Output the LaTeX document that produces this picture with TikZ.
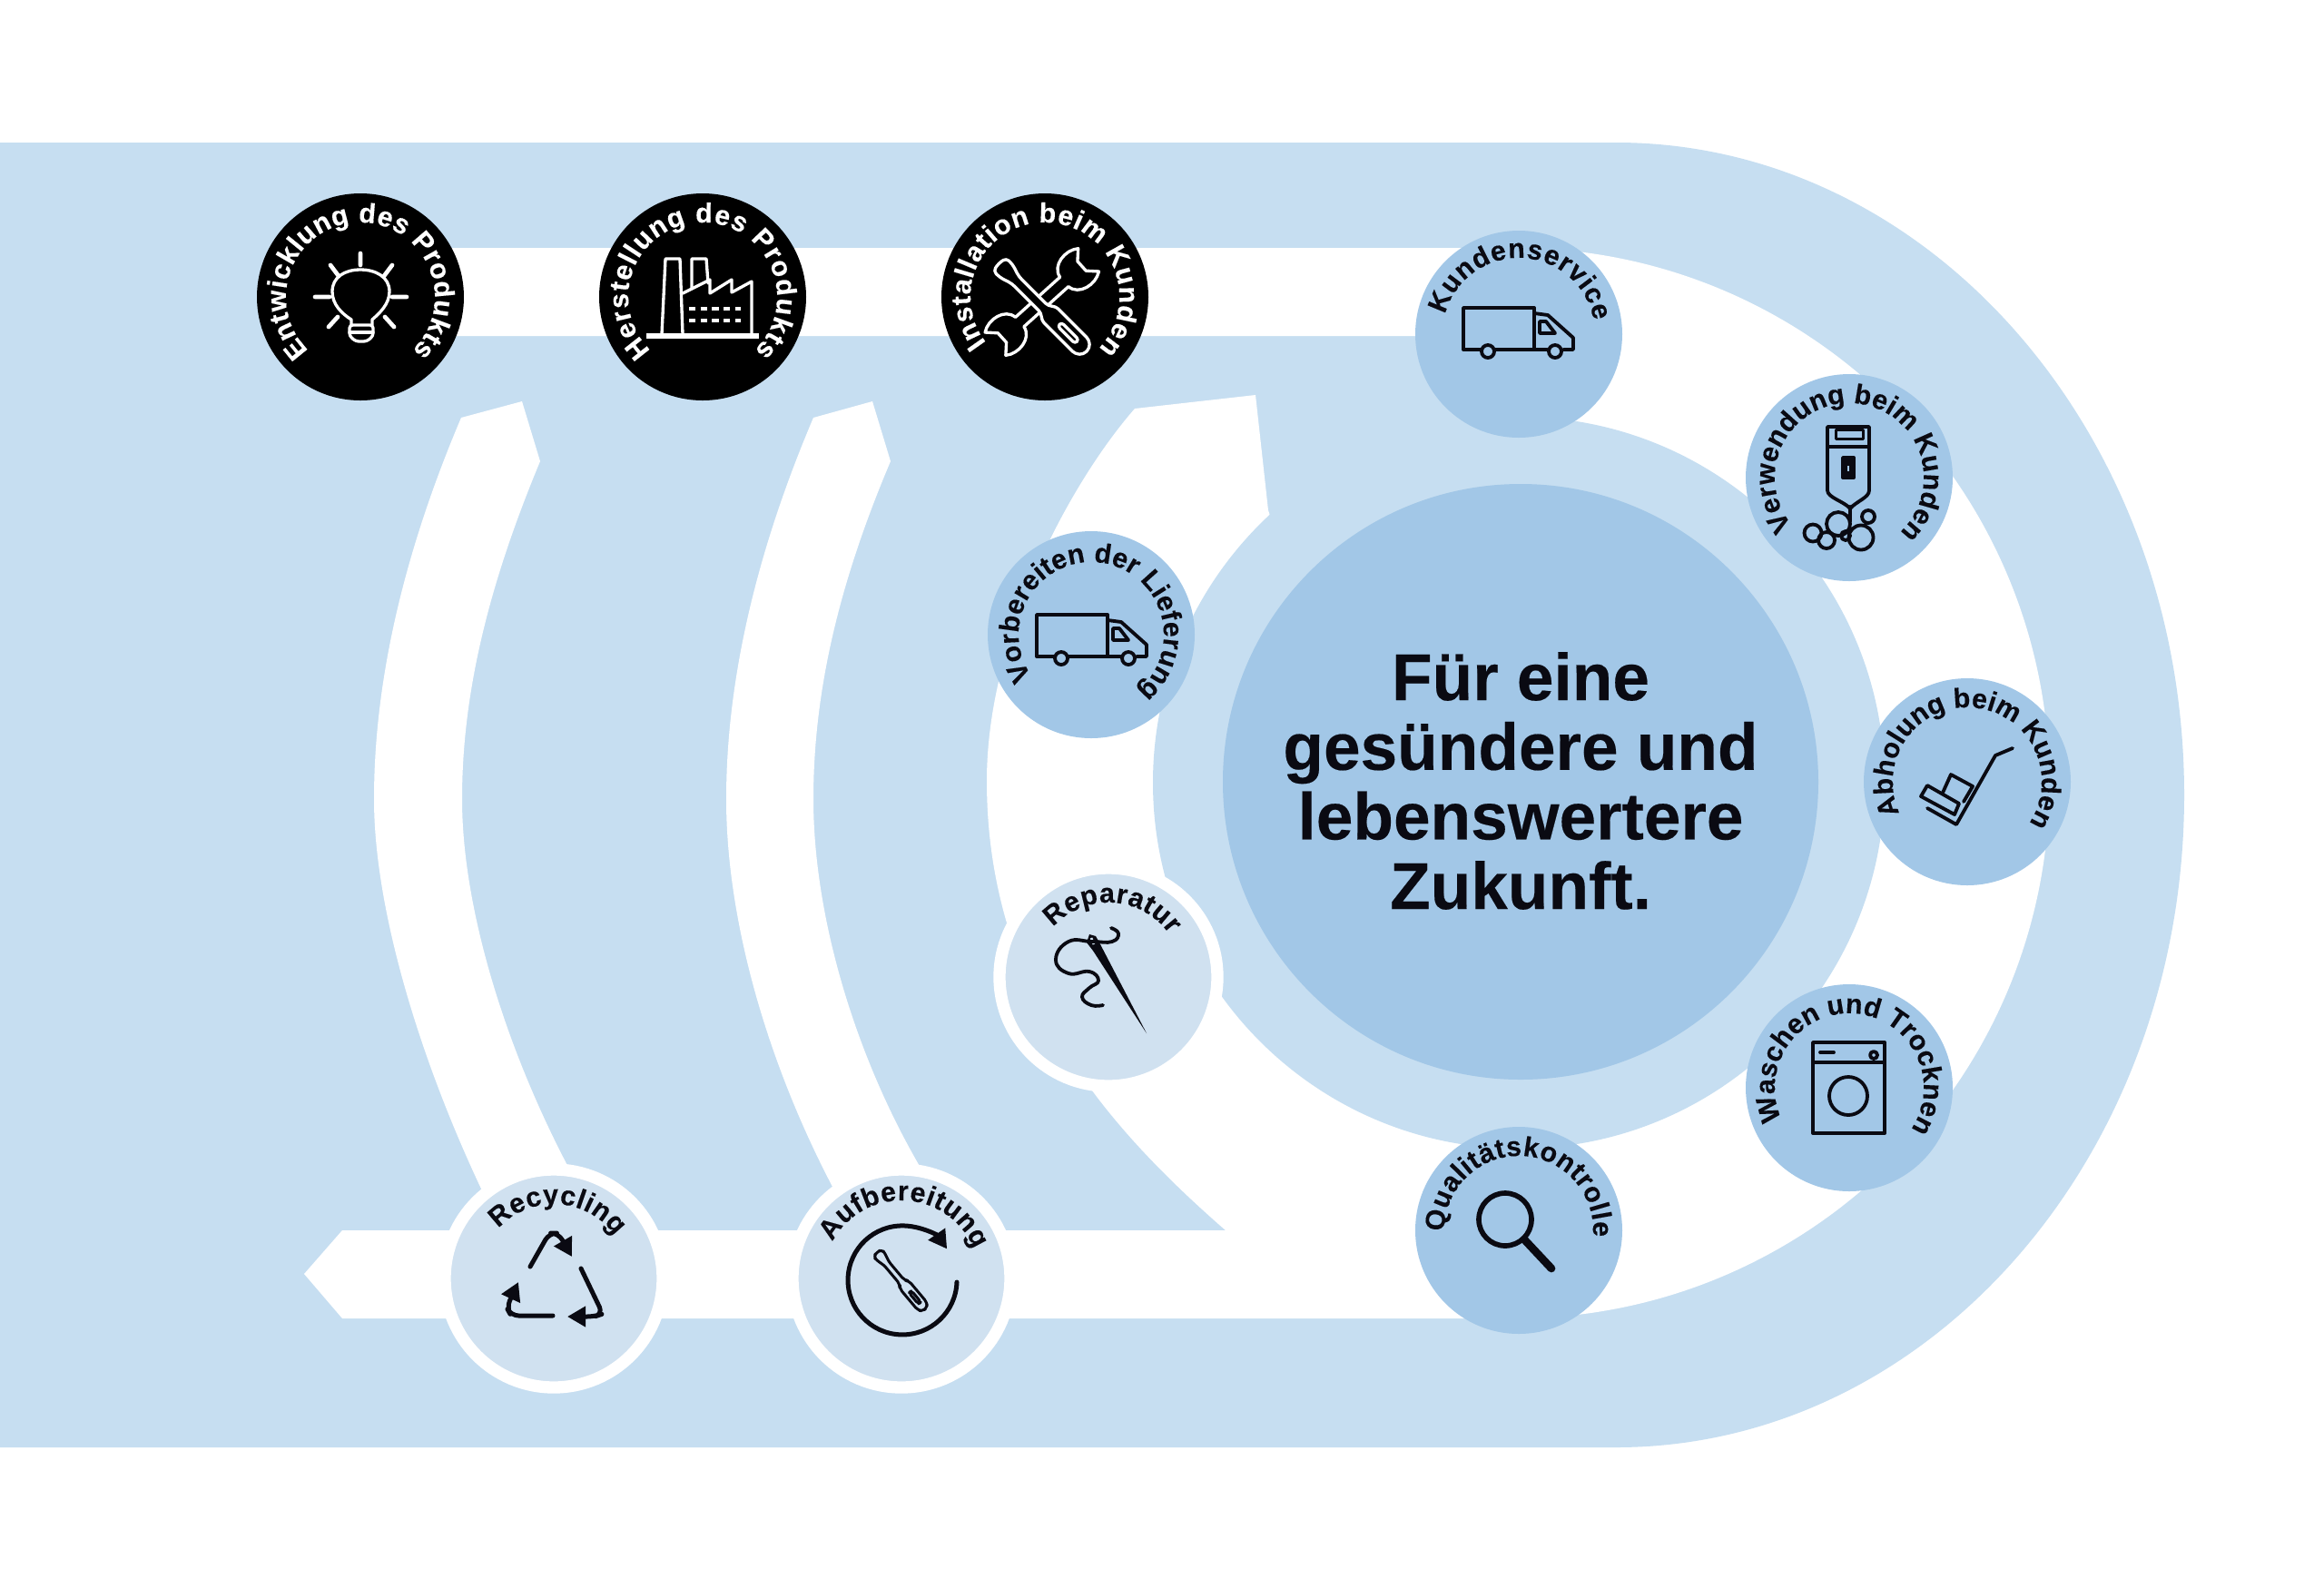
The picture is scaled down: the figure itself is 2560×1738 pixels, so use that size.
\documentclass[tikz,border=0pt]{standalone}
\usepackage{fontspec}
\setmainfont[BoldFeatures={FakeBold=0.25}]{Liberation Sans}
\usetikzlibrary{decorations.text,arrows.meta}
\definecolor{bandblue}{HTML}{C6DEF1}
\definecolor{midblue}{HTML}{A2C7E7}
\definecolor{paleblue}{HTML}{D0E1F0}
\definecolor{inkblack}{HTML}{0A0A12}
\tikzset{
  disc/.style={circle,inner sep=0pt,minimum size=68.4pt,draw=none},
  blackdisc/.style={disc,fill=black},
  bluedisc/.style={disc,fill=midblue},
  paledisc/.style={disc,fill=paleblue,draw=white,line width=4pt,minimum size=72pt},
  ink/.style={draw=inkblack,line width=1.15pt,line join=round,line cap=round},
  whiteink/.style={draw=white,line width=1pt,line join=round,line cap=round},
  recarrow/.style={ink,line width=1.5pt,-{Triangle[length=6pt,width=6.5pt]}},
}
\newcommand{\labfont}{\fontsize{9.1}{10}\selectfont\bfseries}
% cx cy radius startangle endangle colour text  (screen angles, clockwise)
\newcommand{\ringtext}[7]{%
  \path[decorate,decoration={text along path,text={|\labfont\color{#6}|#7},text align={fit to path}}]
    (#1,#2) ++({-(#4)}:#3) arc[start angle={-(#4)},end angle={-(#5)},radius=#3];}
\newcommand{\vantruck}[2]{%
  \begin{scope}[shift={(#1,#2)}]
    \draw[ink] (20,46) -- (0,46) -- (0,0) -- (78,0) -- (78,46) -- (34,46);
    \draw[ink] (78,46) -- (92,46);
    \draw[ink] (78,6) -- (93,8) -- (121,33) -- (121,46) -- (110,46);
    \draw[ink] (84,15) -- (91,15) -- (101,28) -- (84,28) -- cycle;
    \draw[ink] (27,48) circle[radius=7];
    \draw[ink] (101,48) circle[radius=7];
  \end{scope}}
\newcommand{\driver}[5]{% x y angle scale style
  \begin{scope}[shift={(#1,#2)},rotate=#3,scale=#4]
    \draw[#5,rounded corners=1.2pt] (0,0) -- (2,-10) -- (12,-10) -- (26,-5.5) -- (72,-5.5) -- (78,-11) -- (130,-11) -- (137,-5) -- (137,5) -- (130,11) -- (78,11) -- (72,5.5) -- (26,5.5) -- (12,10) -- (2,10) -- cycle;
    \draw[#5,rounded corners=1pt] (95,-3) -- (122,-3) -- (122,3) -- (95,3) -- cycle;
  \end{scope}}
\begin{document}
\begin{tikzpicture}[x=0.3pt,y=-0.3pt]
\useasboundingbox (0,0) rectangle (2560,1738);
\fill[white] (0,0) rectangle (2560,1738);
% band
\fill[bandblue] (0,157) -- (1780,157) arc[start angle=-90,end angle=90,x radius=626,y radius=718.5] -- (0,1594) -- cycle;
% return arrows
\fill[white] (508,460) .. controls (440,620) and (412,760) .. (412,880) .. controls (412,1010) and (470,1190) .. (545,1340)
  -- (645,1320) .. controls (565,1180) and (509,1010) .. (509,880) .. controls (509,760) and (540,640) .. (595,508) -- (575,442) -- cycle;
\fill[white] (896,460) .. controls (828,620) and (800,760) .. (800,880) .. controls (800,1020) and (850,1190) .. (935,1340)
  -- (1035,1320) .. controls (950,1190) and (896,1020) .. (896,880) .. controls (896,760) and (925,640) .. (981,508) -- (961,442) -- cycle;
% main white track
\fill[white] (398,273) -- (1668,273) arc[start angle=-90,end angle=90,radius=589.5] -- (377,1452) -- (335,1403) -- (377,1355) -- (1668,1355) -- (1668,370) -- (398,370) -- cycle;
% third arrow
\fill[white] (1350,1355) .. controls (1230,1250) and (1087,1100) .. (1087,860) .. controls (1087,700) and (1180,530) .. (1250,450)
  -- (1383,435) -- (1397,562) -- (1500,862) -- (1668,1355) -- cycle;
% centre
\fill[bandblue] (1673,862) circle[radius=403];
\node[circle,inner sep=0pt,minimum size=196.8pt,fill=midblue] (core) at (1675,861) {};
\node[align=center,inner sep=0pt,text=inkblack,font=\fontsize{21.9}{23}\selectfont\bfseries] (claim) at (1675,860) {Für eine\\gesündere und\\lebenswertere\\Zukunft.};
% black discs
\node[blackdisc] (entw) at (397,327) {};
\node[blackdisc] (herst) at (774,327) {};
\node[blackdisc] (inst) at (1151,327) {};
% blue discs
\node[bluedisc] (kund) at (1673,368) {};
\node[bluedisc] (verw) at (2037,526) {};
\node[bluedisc] (abh) at (2167,861) {};
\node[bluedisc] (wasch) at (2037,1198) {};
\node[bluedisc] (qual) at (1673,1355) {};
\node[bluedisc] (vorb) at (1202,699) {};
% pale discs
\node[paledisc] (rep) at (1221,1076) {};
\node[paledisc] (recy) at (610,1408) {};
\node[paledisc] (aufb) at (993,1408) {};
% labels
\ringtext{397}{327}{82}{226}{-46}{white}{Entwicklung des Produkts}
\ringtext{774}{327}{82}{226}{-46}{white}{Herstellung des Produkts}
\ringtext{1151}{327}{82}{218}{-44}{white}{Installation beim Kunden}
\ringtext{1673}{368}{84}{165}{10}{inkblack}{Kundenservice}
\ringtext{2037}{526}{82}{220}{-44}{inkblack}{Verwendung beim Kunden}
\ringtext{2167}{861}{82}{205}{-33}{inkblack}{Abholung beim Kunden}
\ringtext{2037}{1198}{82}{205}{-33}{inkblack}{Waschen und Trocknen}
\ringtext{1673}{1355}{82}{181}{-5}{inkblack}{Qualitätskontrolle}
\ringtext{1202}{699}{80}{215}{-44}{inkblack}{Vorbereiten der Lieferung}
\ringtext{1221}{1076}{82}{138}{35}{inkblack}{Reparatur}
\ringtext{610}{1408}{82}{138}{35}{inkblack}{Recycling}
\ringtext{993}{1408}{86}{152}{22}{inkblack}{Aufbereitung}
% bulb
\draw[whiteink] (387,358) -- (387,352) .. controls (376,345) and (366,335) .. (366,321) .. controls (366,305) and (380,297) .. (397,297) .. controls (414,297) and (429,305) .. (429,321) .. controls (429,335) and (418,345) .. (410,352) -- (410,358);
\draw[whiteink,rounded corners=1pt] (385,358) -- (411,358) -- (411,370) -- (404,376) -- (392,376) -- (385,370) -- cycle;
\draw[whiteink] (385,366) -- (411,366);
\draw[whiteink,line width=1.4pt] (397,279) -- (397,292) (347,327) -- (363,327) (432,327) -- (448,327) (364,292) -- (373,304) (432,292) -- (423,304) (362,360) -- (372,349) (434,360) -- (424,349);
% factory
\draw[whiteink] (729,368) -- (733,285) -- (749,285) -- (752,368);
\draw[whiteink] (762,318) -- (762,285) -- (778,285) -- (780,312);
\draw[whiteink] (752,323) -- (782,308) -- (782,323) -- (806,308) -- (806,322) -- (828,310) -- (828,368);
\draw[white,line width=1.6pt] (712,370) -- (836,370);
\draw[white,line width=1.4pt,dash pattern=on 2.2pt off 1.6pt] (759,340) -- (816,340) (759,353) -- (816,353);
% tools
\begin{scope}[shift={(1095,380)},rotate=42]
  \draw[whiteink] (38,-7) .. controls (36,-22) and (14,-26) .. (2,-17) -- (12,-7) -- (12,7) -- (2,17) .. controls (14,26) and (36,22) .. (38,7) -- (104,7) .. controls (106,22) and (128,26) .. (140,17) -- (130,7) -- (130,-7) -- (140,-17) .. controls (128,-26) and (106,-22) .. (104,-7) -- cycle;
\end{scope}
\driver{1100}{290}{-45}{1}{whiteink,fill=black}
% trucks
\vantruck{1612}{339}
\vantruck{1142}{677}
% shaver
\draw[ink] (2013,470) -- (2059,470) -- (2059,540) .. controls (2059,548) and (2045,552) .. (2038,560) .. controls (2031,552) and (2013,548) .. (2013,540) -- cycle;
\draw[ink] (2013,492) -- (2059,492);
\draw[ink,line width=.9pt] (2022,473) -- (2052,473) -- (2052,483) -- (2022,483) -- cycle;
\draw[ink,fill=inkblack] (2030,504) rectangle (2042,526);
\fill[midblue] (2035,513) rectangle (2037,519);
\draw[ink] (2038,558) -- (2038,574);
\draw[ink] (1997,587) circle[radius=9.5] (2012,595) circle[radius=9] (2025,577) circle[radius=13] (2033,590) circle[radius=5] (2050,592) circle[radius=13.5] (2058,569) circle[radius=7];
% hand truck
\draw[ink] (2217,824) -- (2198,832) -- (2155,908) -- (2123,890);
\draw[ink] (2123,865) -- (2116,877) -- (2153,897) -- (2158,885) -- cycle;
\draw[ink] (2140,873) -- (2149,853) -- (2173,866) -- (2163,883);
% washer
\draw[ink] (1997,1148) rectangle (2076,1248);
\draw[ink] (1997,1170) -- (2076,1170);
\draw[ink] (2005,1159) -- (2020,1159);
\draw[ink] (2064,1162) circle[radius=4];
\draw[ink] (2036,1207) circle[radius=21];
% magnifier
\draw[ink,line width=1.7pt] (1658,1343) circle[radius=29];
\draw[ink,line width=2.6pt] (1679,1365) -- (1709,1397);
% needle
\fill[inkblack] (1200,1029) -- (1207,1031) -- (1212,1040) -- (1263,1138) -- (1204,1047) -- (1197,1038) -- cycle;
\draw[paleblue,line width=.8pt] (1202,1033) -- (1205,1040);
\draw[ink] plot[smooth,tension=.8] coordinates {(1224,1022) (1232,1028) (1225,1037) (1203,1037) (1177,1037) (1163,1057) (1177,1072) (1200,1070) (1210,1080) (1200,1088) (1192,1098) (1202,1107) (1215,1107)};
% recycling
\draw[recarrow,rounded corners=2.5pt] (584,1395) -- (605,1358) -- (615,1358) -- (630,1384);
\draw[recarrow,rounded corners=2.5pt] (640,1397) -- (664,1447) -- (655,1450) -- (625,1450);
\draw[recarrow,rounded corners=2.5pt] (609,1449) -- (563,1449) -- (558,1440) -- (571,1412);
% refurbish
\draw[recarrow] (1054,1412) arc[start angle=2,end angle=325,radius=60];
\driver{966}{1379}{-50}{.6}{ink,line width=.9pt}
\end{tikzpicture}
\end{document}
